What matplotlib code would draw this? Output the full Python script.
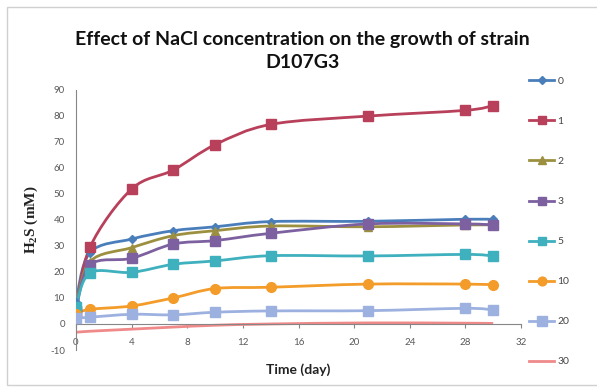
import matplotlib
matplotlib.use('Agg')
import matplotlib.pyplot as plt
from matplotlib.path import Path
from matplotlib.patches import PathPatch, Rectangle
from matplotlib.lines import Line2D

plt.rcParams['font.family'] = ['Lato', 'DejaVu Sans']
plt.rcParams['mathtext.fontset'] = 'custom'
plt.rcParams['mathtext.rm'] = 'Liberation Serif:bold'
plt.rcParams['mathtext.default'] = 'rm'
plt.rcParams['axes.unicode_minus'] = False

# days sampled
days = [0, 1, 4, 7, 10, 14, 21, 28, 30]

# H2S (mM) per NaCl concentration
nacl_0 = [8.5, 27.4, 32.6, 35.8, 37.3, 39.3, 39.4, 40.2, 40.1]
nacl_1 = [5.0, 29.4, 51.8, 59.1, 68.8, 76.6, 79.8, 82.0, 83.8]
nacl_2 = [6.0, 23.9, 29.3, 33.9, 35.8, 37.6, 37.3, 38.0, 38.0]
nacl_3 = [5.0, 22.6, 25.2, 30.7, 32.0, 34.8, 38.4, 38.4, 38.0]
nacl_5 = [6.6, 19.6, 19.8, 22.9, 24.2, 26.2, 26.1, 26.7, 26.1]
nacl_10 = [4.0, 5.6, 6.9, 10.0, 13.6, 14.1, 15.3, 15.3, 15.0]
nacl_20 = [2.2, 2.6, 3.7, 3.5, 4.5, 5.0, 5.1, 6.0, 5.4]
nacl_30 = [-3.2, -2.8, -2.0, -1.2, -0.5, 0.0, 0.4, 0.3, 0.2]

labels = ['0', '1', '2', '3', '5', '10', '20', '30']
series = [nacl_0, nacl_1, nacl_2, nacl_3, nacl_5, nacl_10, nacl_20, nacl_30]
colors = ['#4A7EBB', '#B8405A', '#9C9040', '#7D60A0', '#3FB0BE', '#F39C2A', '#9DB1E0', '#F08A8A']
markers = ['D', 's', '^', 's', 's', 'o', 's', None]
msizes = [4.5, 7, 6, 7, 7, 7, 7.5, 0]


def smooth_path(xs, ys):
    # excel-style smoothed line: catmull-rom segments as cubic beziers
    pts = list(zip(xs, ys))
    verts = [pts[0]]
    codes = [Path.MOVETO]
    n = len(pts)
    for i in range(n - 1):
        p0 = pts[i - 1] if i > 0 else pts[i]
        p1 = pts[i]
        p2 = pts[i + 1]
        p3 = pts[i + 2] if i + 2 < n else pts[i + 1]
        c1 = (p1[0] + (p2[0] - p0[0]) / 6, p1[1] + (p2[1] - p0[1]) / 6)
        c2 = (p2[0] - (p3[0] - p1[0]) / 6, p2[1] - (p3[1] - p1[1]) / 6)
        verts += [c1, c2, p2]
        codes += [Path.CURVE4] * 3
    return Path(verts, codes)


fig = plt.figure(figsize=(5.97, 3.87), dpi=100)
fig.patches.append(Rectangle((0.0117, 0.005), 1.0, 0.977, transform=fig.transFigure,
                             fill=False, edgecolor='#D0D0D0', linewidth=1))
ax = fig.add_axes([0.1273, 0.0956, 0.7454, 0.6731])

handles = []
for vals, lab, c, m, ms in zip(series, labels, colors, markers, msizes):
    ax.add_patch(PathPatch(smooth_path(days, vals), fill=False, edgecolor=c,
                           linewidth=2, zorder=2))
    if m:
        ax.plot(days, vals, linestyle='none', marker=m, markersize=ms,
                color=c, markeredgecolor=c, zorder=3)
    handles.append(Line2D([], [], color=c, linewidth=2, marker=m, markersize=ms * 0.9))

ax.set_xlim(0, 32)
ax.set_ylim(-10, 90)
ax.set_xticks(range(0, 33, 4))
ax.set_yticks(range(-10, 91, 10))

for side in ['top', 'right']:
    ax.spines[side].set_visible(False)
ax.spines['bottom'].set_position(('data', 0))
ax.spines['bottom'].set_color('#868686')
ax.spines['left'].set_color('#868686')
ax.tick_params(axis='both', colors='#868686', labelcolor='#595959', labelsize=7)
ax.tick_params(axis='x', direction='out', length=3, pad=7)
ax.tick_params(axis='y', length=0, pad=8)

ax.set_xlabel('Time (day)', fontsize=10, fontweight='bold', color='#222222')
ax.xaxis.set_label_coords(0.5, -0.05)
ax.set_ylabel('H$_2$S (mM)', fontsize=11, family='Liberation Serif', fontweight='bold',
              color='#222222')
ax.yaxis.set_label_coords(-0.081, 0.5)

fig.text(0.507, 0.868, 'Effect of NaCl concentration on the growth of strain\nD107G3',
         ha='center', va='center', fontsize=14, fontweight='bold', linespacing=1.4,
         color='#111111')

fig.legend(handles, labels, loc='upper left', bbox_to_anchor=(0.878, 0.815),
           frameon=False, fontsize=7.5, labelspacing=2.95, handlelength=2.4,
           handletextpad=0.3, borderpad=0, labelcolor='#444444')

fig.savefig('out.png', dpi=100)
